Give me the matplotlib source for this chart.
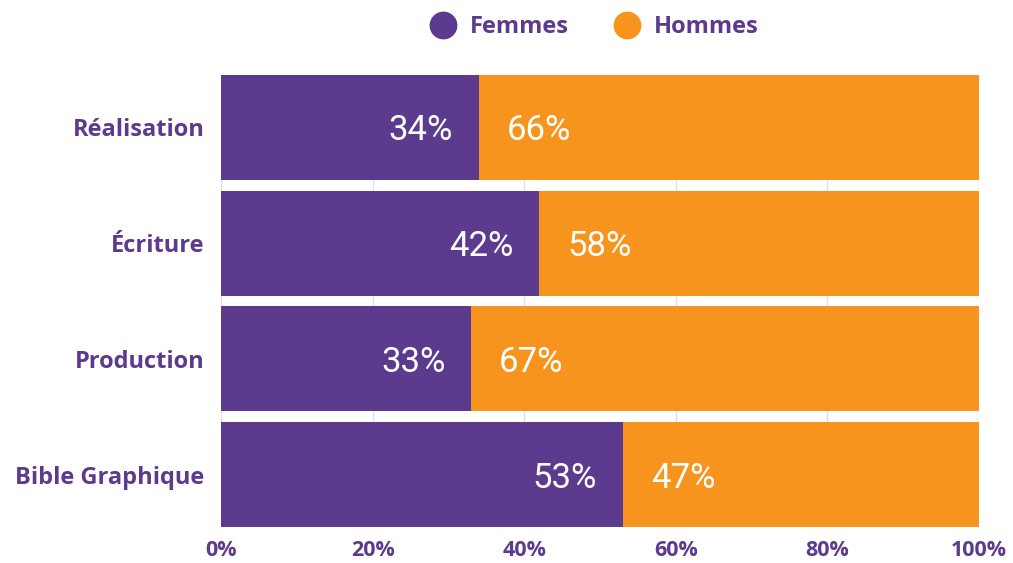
import matplotlib.pyplot as plt
from matplotlib.lines import Line2D

categories = ["Réalisation", "Écriture", "Production", "Bible Graphique"]
femmes = [34, 42, 33, 53]
hommes = [66, 58, 67, 47]
ticks = [0, 20, 40, 60, 80, 100]

violet = "#5C3A8E"
orange = "#F7941D"
label_font = ["Open Sans", "DejaVu Sans"]
value_font = ["Roboto", "DejaVu Sans"]

fig = plt.figure(figsize=(10.13, 5.63), dpi=100)
ax = fig.add_axes([221 / 1013, 1 - 527 / 563, (979 - 221) / 1013, (527 - 75) / 563])

pos = list(range(len(categories)))
h = 0.905
ax.barh(pos, femmes, height=h, color=violet, zorder=2)
ax.barh(pos, hommes, left=femmes, height=h, color=orange, zorder=2)

for y, f, m in zip(pos, femmes, hommes):
    ax.text(f - 3.4, y + 0.03, f"{f}%", ha="right", va="center", color="white",
            fontsize=25, family=value_font, zorder=3)
    ax.text(f + 3.7, y + 0.03, f"{m}%", ha="left", va="center", color="white",
            fontsize=25, family=value_font, zorder=3)

ax.set_xlim(0, 100)
ax.set_ylim(len(categories) - 1 + h / 2, -h / 2)
ax.set_xticks(ticks)
ax.set_xticklabels([f"{t}%" for t in ticks], color=violet, fontsize=15.5,
                   fontweight="bold", family=label_font)
ax.set_yticks(pos)
ax.set_yticklabels(categories, color=violet, fontsize=17, fontweight="bold",
                   family=label_font)
ax.tick_params(length=0, pad=12, axis="y")
ax.tick_params(length=0, pad=9, axis="x")
ax.grid(axis="x", color="#E2DCEC", linewidth=1, zorder=0)
for s in ax.spines.values():
    s.set_visible(False)

handles = [Line2D([], [], marker="o", linestyle="", markersize=19, color=violet),
           Line2D([], [], marker="o", linestyle="", markersize=19, color=orange)]
fig.legend(handles, ["Femmes", "Hommes"], loc="center", bbox_to_anchor=(589 / 1013, 1 - 27 / 563),
           ncol=2, frameon=False, handletextpad=0.1, columnspacing=1.5,
           prop={"family": label_font, "weight": "bold", "size": 17},
           labelcolor=violet)

fig.savefig("out.png", dpi=100)
